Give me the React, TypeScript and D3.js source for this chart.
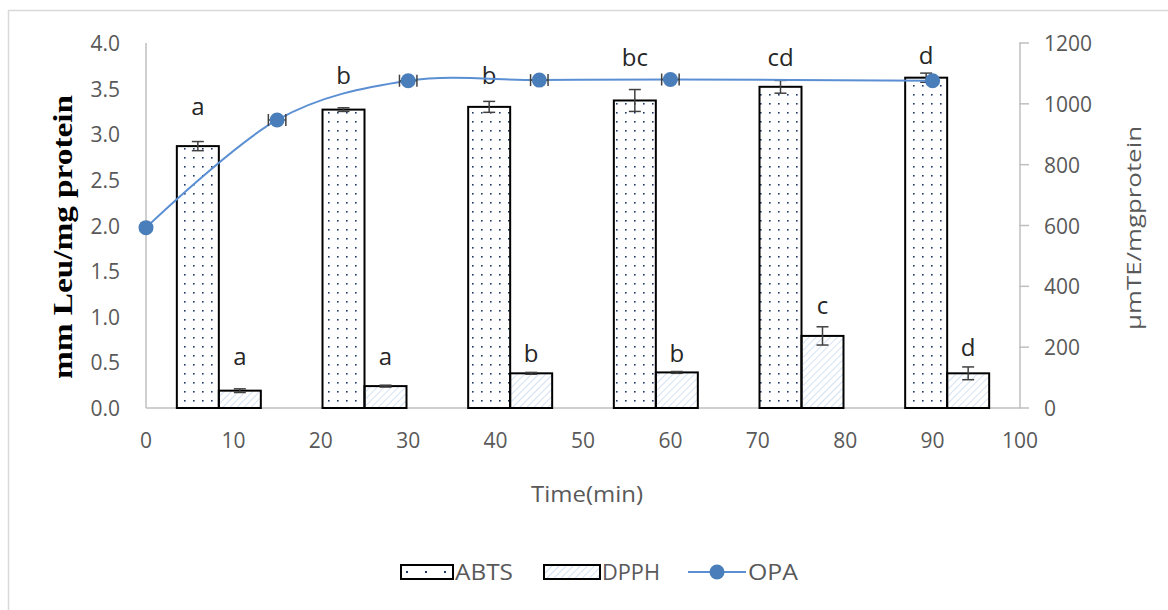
import React from "react";
import * as d3 from "d3";

// ---- data ----
const groups = ["G1", "G2", "G3", "G4", "G5", "G6"];
const abts = [2.87, 3.27, 3.3, 3.37, 3.52, 3.62];
const abtsErr = [0.05, 0.02, 0.06, 0.12, 0.07, 0.05];
const abtsLetters = ["a", "b", "b", "bc", "cd", "d"];
const abtsLetterAt = [3.31, 3.65, 3.65, 3.85, 3.85, 3.87];
const dpph = [0.19, 0.24, 0.38, 0.39, 0.79, 0.38];
const dpphErr = [0.02, 0.01, 0.01, 0.01, 0.1, 0.07];
const dpphLetters = ["a", "a", "b", "b", "c", "d"];
const dpphLetterAt = [0.57, 0.57, 0.61, 0.61, 1.13, 0.67];
const opaTime = [0, 15, 30, 45, 60, 90];
const opa = [593, 947, 1076, 1078, 1080, 1076];
const opaTimeErr = [0, 1, 1, 1, 1, 0];
const leftTicks = [0, 0.5, 1, 1.5, 2, 2.5, 3, 3.5, 4];
const rightTicks = [0, 200, 400, 600, 800, 1000, 1200];
const xTicks = [0, 10, 20, 30, 40, 50, 60, 70, 80, 90, 100];

const W = 1168;
const H = 610;
const L = 146;
const R = 1020;
const T = 43;
const B = 408;

const FONT = "'Open Sans', 'Liberation Sans', sans-serif";
const GRAY = "#595959";
const AXIS = "#bfbfbf";
const ERR = "#404040";
const LINE = "#5b8fd3";
const MARK = "#4a7ebb";

export default function App() {
  const yL = d3.scaleLinear().domain([0, 4]).range([B, T]);
  const yR = d3.scaleLinear().domain([0, 1200]).range([B, T]);
  const xT = d3.scaleLinear().domain([0, 100]).range([L, R]);
  const band = d3
    .scaleBand<string>()
    .domain(groups)
    .range([L, R])
    .paddingInner(0.4234)
    .paddingOuter(0.2117);
  const bw = band.bandwidth() / 2;

  const lineGen = d3
    .line<number>()
    .x((_, i) => xT(opaTime[i]))
    .y((d) => yR(d))
    .curve(d3.curveCatmullRom.alpha(0));

  const errBar = (cx: number, v: number, e: number, key: string) => {
    if (e <= 0) return null;
    const y1 = yL(v + e);
    const y2 = yL(v - e);
    return (
      <g key={key} stroke={ERR} strokeWidth={1.5}>
        <line x1={cx} x2={cx} y1={y1} y2={y2} />
        <line x1={cx - 6} x2={cx + 6} y1={y1} y2={y1} />
        <line x1={cx - 6} x2={cx + 6} y1={y2} y2={y2} />
      </g>
    );
  };

  return (
    <svg
      width={W}
      height={H}
      style={{ position: "absolute", left: 0, top: 0, background: "#fff" }}
    >
      <defs>
        <pattern id="dots" patternUnits="userSpaceOnUse" width={9} height={9}>
          <rect x={4} y={4} width={1.6} height={1.6} fill="#1f3864" />
        </pattern>
        <pattern id="dotsLeg" patternUnits="userSpaceOnUse" x={406} y={571} width={19} height={19}>
          <rect x={0} y={0} width={2} height={2} fill="#1f3864" />
        </pattern>
        <pattern
          id="hatch"
          patternUnits="userSpaceOnUse"
          width={5}
          height={5}
          patternTransform="rotate(45)"
        >
          <line x1={0} y1={0} x2={0} y2={5} stroke="#a9c6ea" strokeWidth={1} />
        </pattern>
      </defs>
      <rect x={8.5} y={10.5} width={1200} height={700} fill="#fff" stroke="#d9d9d9" strokeWidth={1.5} />

      {/* left axis */}
      <line x1={L} x2={L} y1={T} y2={B} stroke={AXIS} strokeWidth={1.5} />
      {leftTicks.map((t) => (
        <text
          key={"l" + t}
          x={120}
          y={yL(t)}
          textAnchor="end"
          dominantBaseline="central"
          fontFamily={FONT}
          fontSize={21}
          fill={GRAY}
        >
          {t.toFixed(1)}
        </text>
      ))}
      {/* right axis */}
      <line x1={R} x2={R} y1={T} y2={B} stroke={AXIS} strokeWidth={1.5} />
      {rightTicks.map((t) => (
        <g key={"r" + t}>
          <line x1={R - 1} x2={R + 9} y1={yR(t)} y2={yR(t)} stroke={AXIS} strokeWidth={1.5} />
          <text
            x={1044}
            y={yR(t)}
            dominantBaseline="central"
            fontFamily={FONT}
            fontSize={21}
            fill={GRAY}
          >
            {t}
          </text>
        </g>
      ))}
      {/* x axis */}
      <line x1={L} x2={R} y1={B} y2={B} stroke={AXIS} strokeWidth={1.5} />
      {xTicks.map((t) => (
        <text
          key={"x" + t}
          x={xT(t)}
          y={440}
          textAnchor="middle"
          dominantBaseline="central"
          fontFamily={FONT}
          fontSize={21}
          fill={GRAY}
        >
          {t}
        </text>
      ))}

      {/* titles */}
      <text
        x={587}
        y={494}
        textAnchor="middle"
        dominantBaseline="central"
        fontFamily={FONT}
        fontSize={21}
        fill={GRAY}
        textLength={112}
        lengthAdjust="spacingAndGlyphs"
      >
        Time(min)
      </text>
      <text
        transform="translate(62,237) rotate(-90)"
        textAnchor="middle"
        dominantBaseline="central"
        fontFamily="'Liberation Serif', 'Times New Roman', serif"
        fontWeight="bold"
        fontSize={28}
        fill="#000"
        textLength={284}
        lengthAdjust="spacingAndGlyphs"
      >
        mm Leu/mg protein
      </text>
      <text
        transform="translate(1133,228) rotate(-90)"
        textAnchor="middle"
        dominantBaseline="central"
        fontFamily={FONT}
        fontSize={20}
        fill={GRAY}
        textLength={204}
        lengthAdjust="spacingAndGlyphs"
      >
        μmTE/mgprotein
      </text>

      {/* bars */}
      {groups.map((g, i) => {
        const x0 = band(g)!;
        return (
          <g key={"bar" + g}>
            <rect
              x={x0}
              y={yL(abts[i])}
              width={bw}
              height={B - yL(abts[i])}
              fill="url(#dots)"
              stroke="#000"
              strokeWidth={2}
            />
            <rect
              x={x0 + bw}
              y={yL(dpph[i])}
              width={bw}
              height={B - yL(dpph[i])}
              fill="url(#hatch)"
              stroke="#000"
              strokeWidth={2}
            />
            {errBar(x0 + bw / 2, abts[i], abtsErr[i], "ea" + i)}
            {errBar(x0 + bw * 1.5, dpph[i], dpphErr[i], "ed" + i)}
            <text
              x={x0 + bw / 2}
              y={yL(abtsLetterAt[i])}
              textAnchor="middle"
              dominantBaseline="central"
              fontFamily={FONT}
              fontSize={24}
              fill="#262626"
            >
              {abtsLetters[i]}
            </text>
            <text
              x={x0 + bw * 1.5}
              y={yL(dpphLetterAt[i])}
              textAnchor="middle"
              dominantBaseline="central"
              fontFamily={FONT}
              fontSize={24}
              fill="#262626"
            >
              {dpphLetters[i]}
            </text>
          </g>
        );
      })}

      {/* OPA line */}
      <path d={lineGen(opa) || ""} fill="none" stroke={LINE} strokeWidth={2} />
      {opa.map((v, i) => {
        const cx = xT(opaTime[i]);
        const cy = yR(v);
        const e = opaTimeErr[i];
        return (
          <g key={"opa" + i}>
            {e > 0 && (
              <g stroke={ERR} strokeWidth={1.5}>
                <line x1={xT(opaTime[i] - e)} x2={xT(opaTime[i] + e)} y1={cy} y2={cy} />
                <line x1={xT(opaTime[i] - e)} x2={xT(opaTime[i] - e)} y1={cy - 6} y2={cy + 6} />
                <line x1={xT(opaTime[i] + e)} x2={xT(opaTime[i] + e)} y1={cy - 6} y2={cy + 6} />
              </g>
            )}
            <circle cx={cx} cy={cy} r={7.5} fill={MARK} />
          </g>
        );
      })}

      {/* legend */}
      <rect x={401} y={565} width={52} height={14} fill="url(#dotsLeg)" stroke="#000" strokeWidth={2} />
      <text x={455} y={572} dominantBaseline="central" fontFamily={FONT} fontSize={21} fill={GRAY} textLength={58} lengthAdjust="spacingAndGlyphs">
        ABTS
      </text>
      <rect x={544} y={565} width={56} height={14} fill="url(#hatch)" stroke="#000" strokeWidth={2} />
      <text x={602} y={572} dominantBaseline="central" fontFamily={FONT} fontSize={21} fill={GRAY} textLength={58} lengthAdjust="spacingAndGlyphs">
        DPPH
      </text>
      <line x1={688} x2={746} y1={572} y2={572} stroke={LINE} strokeWidth={2} />
      <circle cx={717} cy={572} r={7.5} fill={MARK} />
      <text x={748} y={572} dominantBaseline="central" fontFamily={FONT} fontSize={21} fill={GRAY} textLength={50} lengthAdjust="spacingAndGlyphs">
        OPA
      </text>
    </svg>
  );
}
